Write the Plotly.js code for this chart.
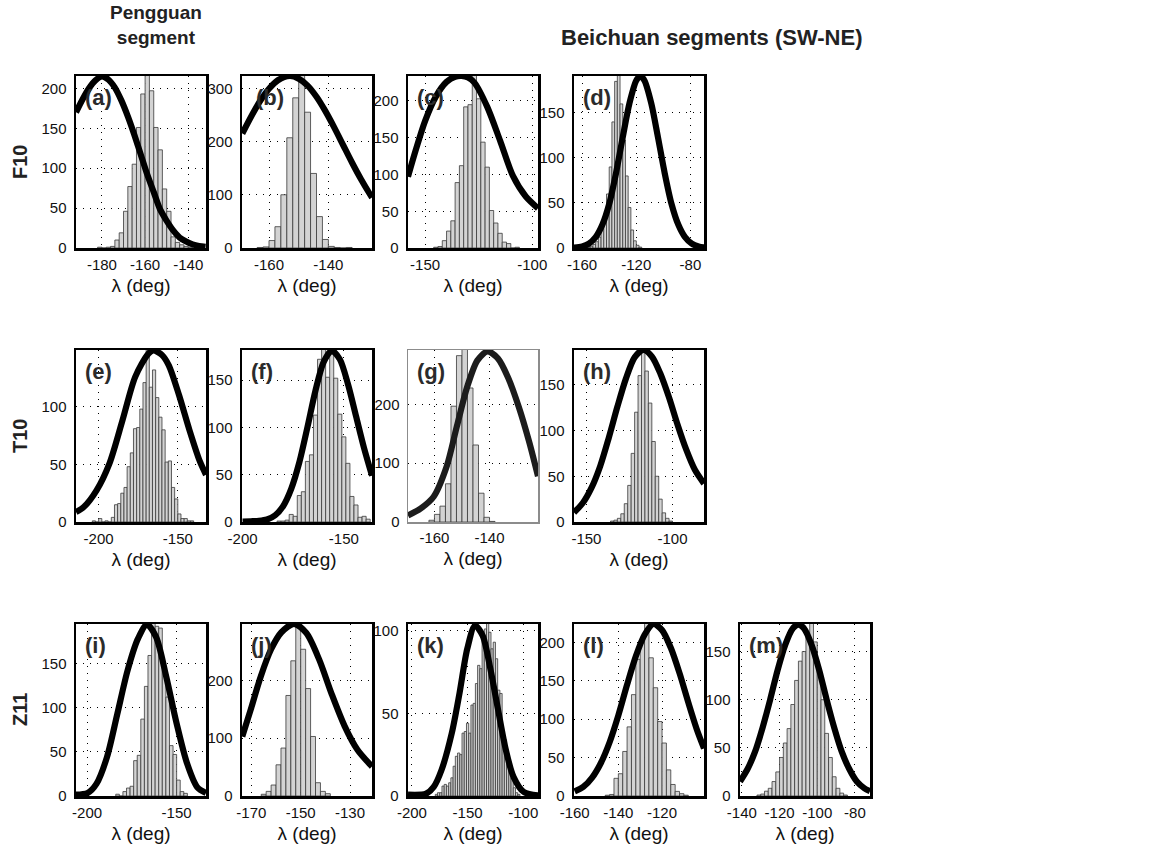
<!DOCTYPE html>
<html>
<head>
<meta charset="utf-8">
<script src="https://cdn.plot.ly/plotly-3.0.1.min.js"></script>
<style>html,body{margin:0;padding:0;background:#fff;overflow:hidden}</style>
</head>
<body>
<div id="chart" style="width:1153px;height:855px"></div>
<script>
// ---- Rake (lambda) posterior histograms (2-degree bins) and prior curves ----
// (a) F10, Pengguan
const aBins   = [-181,-179,-177,-175,-173,-171,-169,-167,-165,-163,-161,-159,-157,-155,-153,-151,-149,-147,-145,-143,-141,-139];
const aCounts = [1,0,1,2,10,19,46,77,105,151,193,218,197,151,123,74,46,14,7,4,2,1];
const aPriorX = [-192,-189,-186,-183,-180,-177,-174,-171,-168,-165,-162,-159,-156,-153,-150,-147,-144,-141,-138,-135,-132];
const aPriorY = [170,186,200,210,215,211,201,185,165,142,117,92,70,48,34,22,13,8,4.5,2.5,1.5];
const aXTicks = [-180,-160,-140];
const aYTicks = [0,50,100,150,200];
// (b) F10, Beichuan 1
const bBins   = [-163,-161,-159,-157,-155,-153,-151,-149,-147,-145,-143,-141,-139,-137,-135,-133];
const bCounts = [1,2,14,40,100,207,282,330,255,140,59,16,3,1,0,1];
const bPriorX = [-169,-166,-163,-160,-157,-153,-150,-147,-144,-141,-138,-135,-132,-129,-126,-125.3];
const bPriorY = [215,247,276,299,315,323,318,305,284,257,226,193,160,129,101,95];
const bXTicks = [-160,-140];
const bYTicks = [0,100,200,300];
// (c) F10, Beichuan 2
const cBins   = [-145,-143,-141,-139,-137,-135,-133,-131,-129,-127,-125,-123,-121,-119,-117,-115,-113,-111,-109,-107];
const cCounts = [1,2,10,23,37,89,112,192,195,240,203,144,110,51,34,20,8,6,0,1];
const cPriorX = [-158,-154.5,-150,-145,-140,-136,-133,-130,-127,-121,-115,-109,-103,-97.3];
const cPriorY = [97,132,173,206,226,233,234,232,225,192,146,98,70,54];
const cXTicks = [-150,-100];
const cYTicks = [0,50,100,150,200];
// (d) F10, Beichuan 3
const dBins   = [-155,-153,-151,-149,-147,-145,-143,-141,-139,-137,-135,-133,-131,-129,-127,-125,-123,-121,-119,-117];
const dCounts = [1,2,4,7,12,22,35,60,90,140,185,195,160,120,80,45,20,8,3,1];
const dPriorX = [-166,-160,-155,-150,-145,-140,-135,-130,-125,-120,-117,-114,-109,-104,-99,-94,-89,-84,-79,-74,-70];
const dPriorY = [0.4,1.7,4.8,12,26,49,83,123,161,186,191,186,161,123,83,49,26,12,4.8,1.7,0.6];
const dXTicks = [-160,-120,-80];
const dYTicks = [0,50,100,150];
// (e) T10, Pengguan
const eBins   = [-203,-201,-199,-197,-195,-193,-191,-189,-187,-185,-183,-181,-179,-177,-175,-173,-171,-169,-167,-165,-163,-161,-159,-157,-155,-153,-151,-149,-147,-145,-143,-141];
const eCounts = [1,0,3,0,1,0,4,15,16,25,30,48,60,81,82,98,121,152,117,132,108,91,80,52,53,30,20,7,3,3,1,1];
const ePriorX = [-214.3,-209.4,-201.3,-193.2,-185,-176.9,-168.7,-165.5,-160,-155.7,-149.2,-142.7,-136.2,-132.2];
const ePriorY = [8.7,13,27.5,50.7,88,126,146,149,145,136,110,80,53,41];
const eXTicks = [-200,-150];
const eYTicks = [0,50,100];
// (f) T10, Beichuan 1
const fBins   = [-182,-180,-178,-176,-174,-172,-170,-168,-166,-164,-162,-160,-158,-156,-154,-152,-150,-148,-146,-144,-142,-140,-138];
const fCounts = [1,1,2,8,6,28,32,64,71,113,172,185,153,178,152,114,90,62,27,18,5,6,3];
const fPriorX = [-200,-196,-192,-188,-184,-180,-176,-172,-168,-164,-160,-156,-152,-148,-144,-140,-136.1];
const fPriorY = [0.5,0.8,1.2,2.6,7,16.7,35,63,100,139,169,181,172,146,112,78,49];
const fXTicks = [-200,-150];
const fYTicks = [0,50,100,150];
// (g) T10, Beichuan 2
const gBins   = [-161,-159,-157,-155,-153,-151,-149,-147,-145,-143,-141,-139];
const gCounts = [3,13,27,65,197,283,300,228,131,49,8,1];
const gPriorX = [-169.6,-165,-160.3,-155.6,-151.9,-148.1,-144.4,-140.7,-136.9,-133.2,-129.4,-125.7,-122.4];
const gPriorY = [11,23,43,94,162,230,275,290,278,245,196,138,78];
const gXTicks = [-160,-140];
const gYTicks = [0,100,200];
// (h) T10, Beichuan 3
const hBins   = [-135,-133,-131,-129,-127,-125,-123,-121,-119,-117,-115,-113,-111,-109,-107,-105,-103,-101];
const hCounts = [1,2,4,9,20,40,75,120,160,192,165,130,88,50,25,10,4,1];
const hPriorX = [-157.2,-152,-147,-142,-137,-132,-127,-122,-117,-112,-107,-102,-97,-92,-87,-81.7];
const hPriorY = [10.4,21,37.5,61,92,126,157,180,188,181,162,136,106,79,57,42];
const hXTicks = [-150,-100];
const hYTicks = [0,50,100,150];
// (i) Z11, Pengguan
const iBins   = [-183,-181,-179,-177,-175,-173,-171,-169,-167,-165,-163,-161,-159,-157,-155,-153,-151,-149,-147,-145];
const iCounts = [2,0,5,9,11,40,46,87,124,159,200,192,190,142,112,57,47,18,5,3];
const iPriorX = [-206.2,-199.7,-194.7,-188.9,-183.1,-177.4,-171.6,-166.6,-161.5,-155.8,-150,-144.2,-138.5,-133.6];
const iPriorY = [1.5,3.4,14,44,93,142,178,194,180,135,82,37,10,3.4];
const iXTicks = [-200,-150];
const iYTicks = [0,50,100,150];
// (j) Z11, Beichuan 1
const jBins   = [-165,-163,-161,-159,-157,-155,-153,-151,-149,-147,-145,-143,-141,-139];
const jCounts = [3,8,19,54,83,174,234,300,254,186,103,23,8,4];
const jPriorX = [-173.7,-170.3,-166.2,-162,-157.9,-152.7,-147.7,-142.5,-137.4,-132.2,-127,-122,-121.1];
const jPriorY = [103,149,207,254,283,298,282,236,176,121,80,55,51];
const jXTicks = [-170,-150,-130];
const jYTicks = [0,100,200];
// (k) Z11, Beichuan 2
const kBins   = [-178,-176,-174,-172,-170,-168,-166,-164,-162,-160,-158,-156,-154,-152,-150,-148,-146,-144,-142,-140,-138,-136,-134,-132,-130,-128,-126,-124,-122,-120,-118,-116,-114,-112,-110,-108,-106,-104];
const kCounts = [1,2,2,6,7,6,8,11,18,24,26,25,38,39,44,38,55,56,68,79,77,94,101,106,99,89,93,83,64,62,39,34,24,16,11,5,2,1];
const kPriorX = [-203.5,-187.3,-180.4,-173.4,-164.2,-157.3,-150.3,-143.4,-136.5,-129.6,-122.6,-115.7,-108.8,-99.5,-86.8];
const kPriorY = [0.8,1.4,5.5,15.7,38,62,89,103,97,77,52,28,11.6,2.4,0.4];
const kXTicks = [-200,-150,-100];
const kYTicks = [0,50,100];
// (l) Z11, Beichuan 3
const lBins   = [-145,-143,-141,-139,-137,-135,-133,-131,-129,-127,-125,-123,-121,-119,-117,-115,-113,-111,-109];
const lCounts = [1,2,23,29,58,90,132,178,202,232,180,141,97,69,34,15,6,3,1];
const lPriorX = [-160,-156,-152,-148,-144,-140,-136,-132,-128,-124,-120,-116,-112,-108,-104,-100.8];
const lPriorY = [6,12,24,43,70,105,145,182,210,224,216,193,160,122,86,62];
const lXTicks = [-160,-140,-120];
const lYTicks = [0,50,100,150,200];
// (m) Z11, Beichuan 4
const mBins   = [-131,-129,-127,-125,-123,-121,-119,-117,-115,-113,-111,-109,-107,-105,-103,-101,-99,-97,-95,-93,-91,-89,-87,-85];
const mCounts = [1,2,5,8,15,25,40,55,70,95,120,140,150,165,182,160,130,100,65,40,20,8,3,1];
const mPriorX = [-141,-137,-133,-129,-125,-121,-117,-113,-110,-107,-103,-99,-95,-91,-87,-83,-79,-75,-72];
const mPriorY = [15,28,46,71,100,131,157,174,178,174,157,131,100,71,46,28,15,8,5];
const mXTicks = [-140,-120,-100,-80];
const mYTicks = [0,50,100,150];

const rowNames = ['F10','T10','Z11'];

// ---- page geometry (pixels) ----
const W = 1153, H = 855;
const colPx = [[76,206],[242,372],[408,538],[574,704],[740,870]];
const rowPx = [[76,248],[350,522],[624,796]];
const FONT = 'Liberation Sans, Arial, Helvetica, sans-serif';

const panels = [
  {tag:'(a)', bins:aBins, counts:aCounts, px:aPriorX, py:aPriorY, xt:aXTicks, yt:aYTicks, col:0, row:0, xr:[-192,-131.8], yr:[0,215.5]},
  {tag:'(b)', bins:bBins, counts:bCounts, px:bPriorX, py:bPriorY, xt:bXTicks, yt:bYTicks, col:1, row:0, xr:[-169.1,-125.3], yr:[0,323], lx:0.09},
  {tag:'(c)', bins:cBins, counts:cCounts, px:cPriorX, py:cPriorY, xt:cXTicks, yt:cYTicks, col:2, row:0, xr:[-158,-97.3], yr:[0,234]},
  {tag:'(d)', bins:dBins, counts:dCounts, px:dPriorX, py:dPriorY, xt:dXTicks, yt:dYTicks, col:3, row:0, xr:[-166,-70], yr:[0,191]},
  {tag:'(e)', bins:eBins, counts:eCounts, px:ePriorX, py:ePriorY, xt:eXTicks, yt:eYTicks, col:0, row:1, xr:[-214.3,-132.2], yr:[0,149.3]},
  {tag:'(f)', bins:fBins, counts:fCounts, px:fPriorX, py:fPriorY, xt:fXTicks, yt:fYTicks, col:1, row:1, xr:[-200.3,-136.1], yr:[0,181.8]},
  {tag:'(g)', bins:gBins, counts:gCounts, px:gPriorX, py:gPriorY, xt:gXTicks, yt:gYTicks, col:2, row:1, xr:[-169.6,-122.4], yr:[0,292.6], light:true},
  {tag:'(h)', bins:hBins, counts:hCounts, px:hPriorX, py:hPriorY, xt:hXTicks, yt:hYTicks, col:3, row:1, xr:[-157.2,-81.7], yr:[0,188]},
  {tag:'(i)', bins:iBins, counts:iCounts, px:iPriorX, py:iPriorY, xt:iXTicks, yt:iYTicks, col:0, row:2, xr:[-206.2,-133.6], yr:[0,194.6]},
  {tag:'(j)', bins:jBins, counts:jCounts, px:jPriorX, py:jPriorY, xt:jXTicks, yt:jYTicks, col:1, row:2, xr:[-173.8,-121.1], yr:[0,297.7]},
  {tag:'(k)', bins:kBins, counts:kCounts, px:kPriorX, py:kPriorY, xt:kXTicks, yt:kYTicks, col:2, row:2, xr:[-203.5,-86.8], yr:[0,104]},
  {tag:'(l)', bins:lBins, counts:lCounts, px:lPriorX, py:lPriorY, xt:lXTicks, yt:lYTicks, col:3, row:2, xr:[-160.3,-100.8], yr:[0,224]},
  {tag:'(m)', bins:mBins, counts:mCounts, px:mPriorX, py:mPriorY, xt:mXTicks, yt:mYTicks, col:4, row:2, xr:[-141,-72], yr:[0,178.6]}
];

const traces = [];
const layout = {
  width: W, height: H,
  margin: {l:0, r:0, t:0, b:0},
  paper_bgcolor: '#fff', plot_bgcolor: '#fff',
  showlegend: false, bargap: 0,
  font: {family: FONT, color: '#000'},
  annotations: []
};

panels.forEach((p, k) => {
  const n = k + 1;
  const sfx = n > 1 ? String(n) : '';
  const xa = 'x' + sfx, ya = 'y' + sfx;
  const [x0, x1] = colPx[p.col], [y0, y1] = rowPx[p.row];
  const frameColor = p.light ? '#8c8c8c' : '#000';
  const frameWidth = p.light ? 1.5 : 2.5;

  traces.push({
    type: 'bar', x: p.bins, y: p.counts, width: 2,
    xaxis: xa, yaxis: ya, hoverinfo: 'skip',
    marker: {color: '#d3d3d3', line: {color: '#3a3a3a', width: 0.8}}
  });
  traces.push({
    type: 'scatter', mode: 'lines', x: p.px, y: p.py,
    xaxis: xa, yaxis: ya, hoverinfo: 'skip',
    line: {color: p.light ? '#1c1c1c' : '#000', width: 6.2, shape: 'spline', smoothing: 0.8}
  });

  const axCommon = {
    showgrid: true, gridcolor: '#000', gridwidth: 1, griddash: '1px,6px',
    showline: true, mirror: true, linecolor: frameColor, linewidth: frameWidth,
    zeroline: false, ticks: '', fixedrange: true,
    tickfont: {family: FONT, size: 15, color: '#111'}
  };
  layout['xaxis' + sfx] = Object.assign({}, axCommon, {
    domain: [x0 / W, x1 / W], anchor: ya, range: p.xr,
    tickmode: 'array', tickvals: p.xt, ticktext: p.xt.map(String),
    ticklabelstandoff: 1,
    title: {text: 'λ (deg)', font: {family: FONT, size: 19, color: '#111'}, standoff: 7}
  });
  layout['yaxis' + sfx] = Object.assign({}, axCommon, {
    domain: [1 - y1 / H, 1 - y0 / H], anchor: xa, range: p.yr,
    tickmode: 'array', tickvals: p.yt, ticktext: p.yt.map(String),
    ticklabelstandoff: 4
  });

  layout.annotations.push({
    xref: xa + ' domain', yref: ya + ' domain', x: p.lx || 0.05, y: 0.96,
    xanchor: 'left', yanchor: 'top', showarrow: false,
    text: '<b>' + p.tag + '</b>',
    font: {family: FONT, size: 22, color: '#2b2b2b'}
  });
});

// row labels
rowNames.forEach((name, r) => {
  const yc = (rowPx[r][0] + rowPx[r][1]) / 2;
  layout.annotations.push({
    xref: 'paper', yref: 'paper', x: 20 / W, y: 1 - yc / H,
    xanchor: 'center', yanchor: 'middle', showarrow: false, textangle: -90,
    text: '<b>' + name + '</b>', font: {family: FONT, size: 20, color: '#222'}
  });
});

// column headings
layout.annotations.push({
  xref: 'paper', yref: 'paper', x: 156 / W, y: 1 - 25 / H,
  xanchor: 'center', yanchor: 'middle', showarrow: false,
  text: '<b>Pengguan</b><br><b>segment</b>',
  font: {family: FONT, size: 19, color: '#222'}
});
layout.annotations.push({
  xref: 'paper', yref: 'paper', x: 712 / W, y: 1 - 38 / H,
  xanchor: 'center', yanchor: 'middle', showarrow: false,
  text: '<b>Beichuan segments (SW-NE)</b>',
  font: {family: FONT, size: 22, color: '#222'}
});

Plotly.newPlot('chart', traces, layout, {staticPlot: true, displayModeBar: false});
</script>
</body>
</html>
